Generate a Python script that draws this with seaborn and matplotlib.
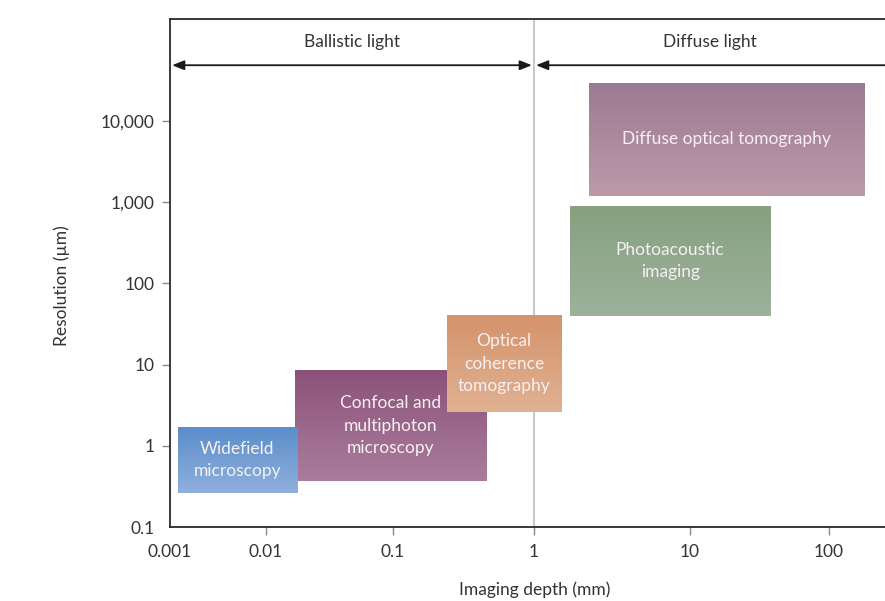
import numpy as np
import seaborn as sns
import matplotlib.pyplot as plt
from matplotlib.colors import LinearSegmentedColormap
from matplotlib.ticker import NullLocator
from matplotlib.transforms import blended_transform_factory

# imaging techniques: depth range (mm) and resolution range (µm)
techniques = [
    "Confocal and\nmultiphoton\nmicroscopy",
    "Widefield\nmicroscopy",
    "Optical\ncoherence\ntomography",
    "Photoacoustic\nimaging",
    "Diffuse optical tomography",
]
depth_min = [0.017, 0.0012, 0.24, 1.7, 2.25]
depth_max = [0.46, 0.0175, 1.5, 38, 180]
res_min = [0.37, 0.265, 2.6, 40, 1200]
res_max = [8.4, 1.7, 40, 900, 29500]
top_colors = ["#8b5279", "#5a8dca", "#d4936b", "#87a07f", "#9c7a93"]
bottom_colors = ["#aa7d9c", "#90b0dd", "#e0b293", "#9cb29b", "#bd9aa8"]

regions = ["Ballistic light", "Diffuse light"]
region_lo = [0.001, 1]
region_hi = [1, 1000]

x_ticks = [0.001, 0.01, 0.1, 1, 10, 100]
x_labels = ["0.001", "0.01", "0.1", "1", "10", "100"]
y_ticks = [0.1, 1, 10, 100, 1000, 10000]
y_labels = ["0.1", "1", "10", "100", "1,000", "10,000"]

# the original figure spaces its depth decades unevenly
decade_log = np.arange(-4, 5)
decade_pos = np.array([-96, 0, 96, 223, 364, 520, 659, 798, 937], dtype=float)


def depth_fwd(x):
    return np.interp(np.log10(np.clip(x, 1e-12, None)), decade_log, decade_pos)


def depth_inv(p):
    return 10 ** np.interp(p, decade_pos, decade_log)


sns.set_theme(style="ticks")
plt.rcParams["font.family"] = ["Lato", "DejaVu Sans"]
text_col = "#333333"

fig = plt.figure(figsize=(8.85, 6.01), dpi=100)
ax = fig.add_axes([170 / 885, 74 / 601, 715 / 885, 508 / 601])

ax.set_xscale("function", functions=(depth_fwd, depth_inv))
ax.set_yscale("log")
xlim = (0.001, 253)
ylim = (0.1, 180000)
ax.set_xlim(*xlim)
ax.set_ylim(*ylim)

for i, name in enumerate(techniques):
    lo, hi = depth_min[i], depth_max[i]
    rlo, rhi = res_min[i], res_max[i]
    z = 2 + i
    bar = ax.bar(x=lo, height=rhi - rlo, width=hi - lo, bottom=rlo, align="edge",
                 color=bottom_colors[i], linewidth=0, zorder=z)[0]
    p = ax.transAxes.inverted().transform(
        ax.transData.transform([[lo, rlo], [hi, rhi]]))
    cmap = LinearSegmentedColormap.from_list(name, [top_colors[i], bottom_colors[i]])
    grad = np.linspace(0, 1, 256)[:, None]
    ax.imshow(grad, cmap=cmap, extent=(p[0, 0], p[1, 0], p[0, 1], p[1, 1]),
              transform=ax.transAxes, aspect="auto", origin="upper",
              interpolation="bilinear", zorder=z, clip_path=bar)
    cx = depth_inv((depth_fwd(lo) + depth_fwd(hi)) / 2)
    cy = np.sqrt(rlo * rhi)
    ax.text(cx, cy, name, ha="center", va="center", fontsize=12.5,
            color="#f6f0f4", linespacing=1.5, zorder=z + 0.5)

ax.set_xlim(*xlim)
ax.set_ylim(*ylim)

ax.axvline(1, color="#c9c9c9", lw=1.5, zorder=1)

# light regimes along the top
trans = blended_transform_factory(ax.transData, ax.transAxes)
for i, name in enumerate(regions):
    lo, hi = region_lo[i], region_hi[i]
    style = "<|-|>" if hi <= xlim[1] else "<|-"
    ax.annotate("", xy=(hi, 0.909), xytext=(lo, 0.909), xycoords=trans,
                textcoords=trans, annotation_clip=False,
                arrowprops=dict(arrowstyle=style + ",head_length=0.55,head_width=0.22",
                                color="#1a1a1a", lw=1.3, mutation_scale=13,
                                shrinkA=1.5, shrinkB=1.5))
    cx = depth_inv((depth_fwd(lo) + depth_fwd(min(hi, xlim[1]))) / 2)
    ax.text(cx - 0 if i else cx, 0.955, name, transform=trans, ha="center",
            va="center", fontsize=12.5, color=text_col)

ax.set_xticks(x_ticks)
ax.set_xticklabels(x_labels)
ax.set_yticks(y_ticks)
ax.set_yticklabels(y_labels)
ax.xaxis.set_minor_locator(NullLocator())
ax.yaxis.set_minor_locator(NullLocator())
ax.xaxis.get_major_ticks()[0].tick1line.set_visible(False)
ax.yaxis.get_major_ticks()[0].tick1line.set_visible(False)
ax.tick_params(axis="both", direction="out", length=6, width=1, color="#8a8a8a",
               labelsize=12.5, labelcolor=text_col)
ax.tick_params(axis="x", pad=6)
ax.tick_params(axis="y", pad=5)

ax.set_xlabel("Imaging depth (mm)", fontsize=12.5, color=text_col)
ax.set_ylabel("Resolution (µm)", fontsize=12.5, color=text_col)
ax.xaxis.set_label_coords(0.51, -0.108)
ax.yaxis.set_label_coords(-0.140, 0.476)

ax.spines["right"].set_visible(False)
for side in ["top", "left", "bottom"]:
    ax.spines[side].set_color("#2a2a2a")
    ax.spines[side].set_linewidth(1.3)

fig.savefig("out.png", dpi=100)
